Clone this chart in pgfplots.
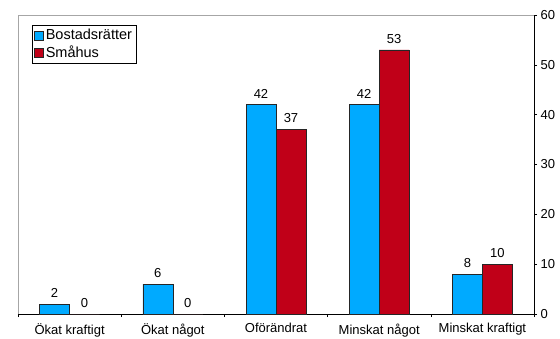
\documentclass[border=0pt]{standalone}
\usepackage{fontspec}
\setmainfont{Liberation Sans}
\usepackage{pgfplots}
\pgfplotsset{compat=1.18}
\definecolor{brblue}{HTML}{00AAFF}
\definecolor{shred}{HTML}{C00018}
\newcommand{\lab}{\fontsize{13}{15}\selectfont}
\newcommand{\leglab}{\fontsize{14.5}{17}\selectfont}
\begin{document}
\begin{tikzpicture}
\begin{axis}[
  scale only axis,
  width=516pt, height=299pt,
  xmin=-0.5, xmax=4.5, ymin=0, ymax=60,
  axis x line*=bottom, axis y line*=right,
  axis line style={black, line width=0.6pt, -},
  ytick={0,10,...,60},
  xtick={-0.5,0.5,...,4.5}, xticklabels={},
  extra x ticks={0,1,2,3,4},
  extra x tick labels={Ökat kraftigt, Ökat något, Oförändrat, Minskat något, Minskat kraftigt},
  extra x tick style={major tick length=0pt, xticklabel style={yshift=-6pt}},
  tick align=outside, major tick length=3pt,
  tick style={black, line width=0.6pt},
  tick label style={font=\lab},
  /pgf/number format/assume math mode=true,
  ybar=0pt, bar width=30pt,
  nodes near coords,
  every node near coord/.append style={font=\lab, yshift=3pt, black},
  legend image code/.code={\draw[#1, line width=0.5pt] (0pt,-4.5pt) rectangle (9pt,4.5pt);},
  legend style={at={(axis description cs:0.0271,0.9666)}, anchor=north west,
    draw=black, line width=0.6pt, font=\leglab, inner xsep=2pt, inner ysep=2pt,
    row sep=1pt, cells={anchor=west}},
]
\draw[gray!70, line width=0.6pt] (rel axis cs:0,0) -- (rel axis cs:0,1) -- (rel axis cs:1,1);
\addplot[fill=brblue, draw=black!85, line width=0.5pt] coordinates {(0,2) (1,6) (2,42) (3,42) (4,8)};
\addplot[fill=shred, draw=black!85, line width=0.5pt] coordinates {(0,0) (1,0) (2,37) (3,53) (4,10)};
\legend{Bostadsrätter, Småhus}
\end{axis}
\pgfresetboundingbox
\path[use as bounding box] (-18pt,-24pt) rectangle (542pt,314pt);
\end{tikzpicture}
\end{document}
